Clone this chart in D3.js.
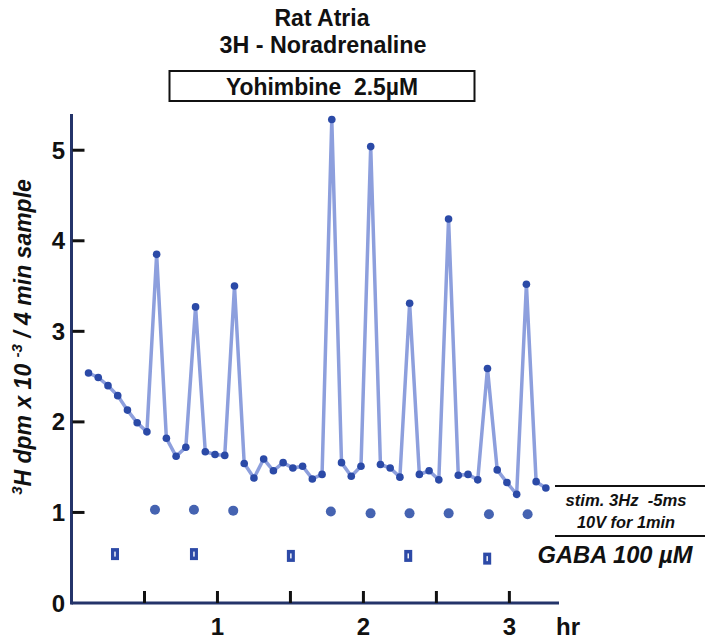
<!DOCTYPE html>
<html lang="en">
<head>
<meta charset="UTF-8">
<title>Rat Atria 3H - Noradrenaline</title>
<script src="https://d3js.org/d3.v7.min.js"></script>
<style>
    body { margin: 0; background: #fff; }
    svg { display: block; font-family: "Liberation Sans", Arial, sans-serif; }
    text { white-space: pre; }
</style>
</head>
<body>
<script>
// sample times (minutes), one every 4 min
const sampleMin = [7, 11, 15, 19, 23, 27, 31, 35, 39, 43, 47, 51, 55, 59, 63, 67,
    71, 75, 79, 83, 87, 91, 95, 99, 103, 107, 111, 115, 119, 123, 127, 131,
    135, 139, 143, 147, 151, 155, 159, 163, 167, 171, 175, 179, 183, 187, 191, 195];
// 3H outflow, dpm x 10^-3 per 4 min sample
const outflow = [2.54, 2.49, 2.40, 2.29, 2.13, 1.99, 1.89, 3.85, 1.82, 1.62, 1.72, 3.27,
    1.67, 1.64, 1.63, 3.50, 1.54, 1.38, 1.59, 1.46, 1.55, 1.49, 1.51, 1.37,
    1.42, 5.34, 1.55, 1.40, 1.51, 5.04, 1.53, 1.49, 1.39, 3.31, 1.42, 1.46,
    1.36, 4.24, 1.41, 1.42, 1.36, 2.59, 1.47, 1.33, 1.20, 3.52, 1.34, 1.27];
// stimulation markers (hr, level)
const stimHr = [0.572, 0.839, 1.108, 1.777, 2.049, 2.316, 2.584, 2.860, 3.125];
const stimLevel = [1.03, 1.03, 1.02, 1.01, 0.99, 0.99, 0.99, 0.98, 0.98];
// GABA markers (hr, level)
const gabaHr = [0.298, 0.839, 1.503, 2.307, 2.848];
const gabaLevel = [0.54, 0.54, 0.52, 0.52, 0.49];
const xTicks = [0.5, 1, 1.5, 2, 2.5, 3];
const xLabels = [1, 2, 3];
const yTicks = [0, 1, 2, 3, 4, 5];

const W = 705, H = 639;
const svg = d3.select("body").append("svg").attr("width", W).attr("height", H);

const x = d3.scaleLinear().domain([0, 3.34]).range([71.5, 559]);
const y = d3.scaleLinear().domain([0, 5.4]).range([603, 114]);

const navy = "#24346a";
const ink = "#111";

function label(tx, ty, str, size, len, italic) {
    const t = svg.append("text").attr("x", tx).attr("y", ty).attr("text-anchor", "middle")
        .attr("font-size", size).attr("font-weight", "bold").attr("fill", ink).text(str);
    if (italic) t.attr("font-style", "italic");
    if (len) t.attr("textLength", len).attr("lengthAdjust", "spacingAndGlyphs");
    return t;
}

// titles
label(322, 26, "Rat Atria", 23, 95);
label(323, 53, "3H - Noradrenaline", 23, 207);
svg.append("rect").attr("x", 169.5).attr("y", 71).attr("width", 305).attr("height", 30)
    .attr("fill", "none").attr("stroke", ink).attr("stroke-width", 2);
label(322, 95, "Yohimbine  2.5µM", 24, 192);

// axes lines
svg.append("line").attr("x1", x(0)).attr("x2", x(0)).attr("y1", y(5.4)).attr("y2", y(0) + 1.5)
    .attr("stroke", navy).attr("stroke-width", 3);
svg.append("line").attr("x1", x(0)).attr("x2", x(3.34)).attr("y1", y(0)).attr("y2", y(0))
    .attr("stroke", navy).attr("stroke-width", 3);

// y ticks
const yg = svg.append("g");
yg.selectAll("line").data(yTicks.filter(d => d > 0)).enter().append("line")
    .attr("x1", x(0) + 1).attr("x2", x(0) + 13)
    .attr("y1", d => y(d)).attr("y2", d => y(d))
    .attr("stroke", ink).attr("stroke-width", 3);
yg.selectAll("text").data(yTicks).enter().append("text")
    .attr("x", 65).attr("y", d => y(d) + 8.5).attr("text-anchor", "end")
    .attr("font-size", 24).attr("font-weight", "bold").attr("fill", ink)
    .text(d => d);

// x ticks
const xg = svg.append("g");
xg.selectAll("line").data(xTicks).enter().append("line")
    .attr("x1", d => x(d)).attr("x2", d => x(d))
    .attr("y1", y(0) - 12).attr("y2", y(0))
    .attr("stroke", ink).attr("stroke-width", 3);
xg.selectAll("text").data(xLabels).enter().append("text")
    .attr("x", d => x(d)).attr("y", 635).attr("text-anchor", "middle")
    .attr("font-size", 24).attr("font-weight", "bold").attr("fill", ink)
    .text(d => d);
svg.append("text").attr("x", 568).attr("y", 635).attr("text-anchor", "middle")
    .attr("font-size", 24).attr("font-weight", "bold").attr("fill", ink).text("hr");

// y label
const yl = svg.append("text")
    .attr("transform", "translate(31,337) rotate(-90)")
    .attr("text-anchor", "middle").attr("font-size", 23)
    .attr("font-weight", "bold").attr("font-style", "italic").attr("fill", ink);
yl.append("tspan").attr("font-size", 15).attr("dy", -9).text("3");
yl.append("tspan").attr("dy", 9).text("H dpm x 10 ");
yl.append("tspan").attr("font-size", 15).attr("dy", -9).text("-3");
yl.append("tspan").attr("dy", 9).text(" / 4 min sample");

// outflow line
const pts = sampleMin.map((m, i) => ({ t: m / 60, v: outflow[i] }));
svg.append("path").datum(pts)
    .attr("d", d3.line().x(d => x(d.t)).y(d => y(d.v)))
    .attr("fill", "none").attr("stroke", "#8d9fdd").attr("stroke-width", 3.5)
    .attr("stroke-linejoin", "miter");
svg.append("g").selectAll("circle").data(pts).enter().append("circle")
    .attr("cx", d => x(d.t)).attr("cy", d => y(d.v)).attr("r", 3.8)
    .attr("fill", "#2b4aa7");

// stim markers
svg.append("g").selectAll("circle").data(stimHr).enter().append("circle")
    .attr("cx", d => x(d)).attr("cy", (d, i) => y(stimLevel[i])).attr("r", 5)
    .attr("fill", "#4563b1");

// GABA markers
const gg = svg.append("g").selectAll("g").data(gabaHr).enter().append("g")
    .attr("transform", (d, i) => `translate(${x(d)},${y(gabaLevel[i])})`);
gg.append("rect").attr("x", -4).attr("y", -6).attr("width", 8).attr("height", 12)
    .attr("fill", "#2d4aa7");
gg.append("rect").attr("x", -0.7).attr("y", -2.5).attr("width", 1.4).attr("height", 5)
    .attr("fill", "#fff");

// right side annotation
svg.append("line").attr("x1", 555).attr("x2", 705).attr("y1", 486).attr("y2", 486)
    .attr("stroke", ink).attr("stroke-width", 2);
svg.append("line").attr("x1", 555).attr("x2", 705).attr("y1", 536).attr("y2", 536)
    .attr("stroke", ink).attr("stroke-width", 2);
label(626, 506, "stim. 3Hz  -5ms", 16, 121, true);
label(626, 528, "10V for 1min", 16, 98, true);
label(615, 563, "GABA 100 µM", 23, 155, true);
</script>
</body>
</html>
